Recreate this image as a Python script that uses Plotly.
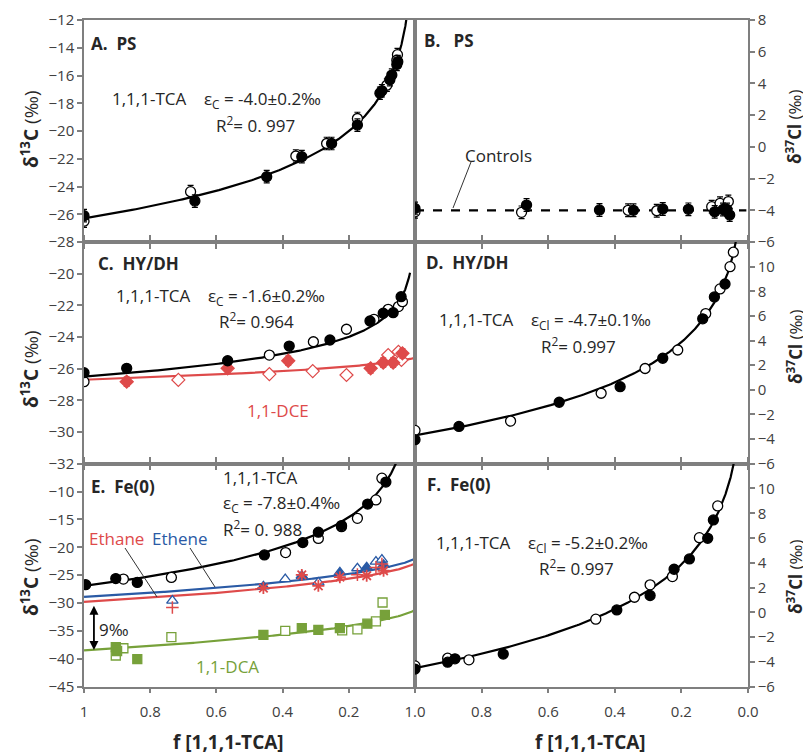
import numpy as np
import plotly.graph_objects as go

# ---------------- data ----------------
# Panel A (PS, d13C)
A_f_fill = [1.0, 0.665, 0.448, 0.342, 0.252, 0.174, 0.106, 0.10, 0.076, 0.07, 0.055, 0.052]
A_v_fill = [-26.1, -25.05, -23.29, -21.85, -20.9, -19.57, -17.28, -17.1, -16.3, -15.97, -15.2, -15.0]
A_f_open = [1.0, 0.678, 0.36, 0.267, 0.174, 0.085, 0.053, 0.055]
A_v_open = [-26.5, -24.37, -21.8, -20.9, -19.1, -16.7, -14.5, -14.9]
A_err = 0.45

# Panel B (PS, d37Cl controls)
B_f_fill = [1.0, 0.665, 0.446, 0.344, 0.256, 0.179, 0.10, 0.075, 0.063, 0.055]
B_v_fill = [-3.88, -3.67, -3.98, -4.0, -3.92, -3.94, -4.1, -3.95, -3.95, -4.3]
B_f_open = [1.0, 0.68, 0.36, 0.274, 0.109, 0.084, 0.059]
B_v_open = [-4.1, -4.13, -4.0, -4.03, -3.77, -3.56, -3.45]
B_err = 0.4
B_control = -4.0

# Panel C (HY/DH, d13C)
C_f_fill = [1.0, 0.871, 0.566, 0.38, 0.257, 0.136, 0.096, 0.066, 0.042]
C_v_fill = [-26.25, -25.98, -25.5, -24.57, -24.19, -22.99, -22.5, -22.46, -21.45]
C_f_open = [1.0, 0.44, 0.307, 0.207, 0.124, 0.081, 0.05, 0.038]
C_v_open = [-26.82, -25.14, -24.3, -23.51, -22.88, -22.25, -22.08, -21.77]
C_dce_f_fill = [0.871, 0.566, 0.383, 0.134, 0.096, 0.066, 0.038]
C_dce_v_fill = [-26.82, -25.98, -25.5, -25.98, -25.62, -25.62, -25.03]
C_dce_f_open = [0.715, 0.44, 0.309, 0.207, 0.081, 0.05, 0.041]
C_dce_v_open = [-26.71, -26.34, -26.15, -26.4, -25.14, -24.93, -25.45]

# Panel D (HY/DH, d37Cl)
D_f_fill = [1.0, 0.868, 0.567, 0.384, 0.256, 0.136, 0.101, 0.069]
D_v_fill = [-4.05, -2.97, -1.01, 0.25, 2.56, 5.76, 7.54, 8.59]
D_f_open = [1.0, 0.713, 0.441, 0.309, 0.211, 0.127, 0.084, 0.054, 0.044]
D_v_open = [-3.3, -2.54, -0.28, 1.73, 3.23, 6.19, 8.19, 10.0, 11.17]

# Panel E (Fe(0), d13C)
E_f_fill = [0.995, 0.904, 0.839, 0.455, 0.339, 0.292, 0.222, 0.143, 0.088]
E_v_fill = [-26.7, -25.6, -26.3, -21.36, -19.15, -17.29, -16.1, -12.25, -8.3]
E_f_open = [0.881, 0.736, 0.391, 0.292, 0.222, 0.174, 0.118, 0.10]
E_v_open = [-25.7, -25.4, -20.95, -18.4, -16.3, -14.8, -11.5, -7.6]
E_ethene_f_fill = [0.458, 0.342, 0.227, 0.146, 0.095]
E_ethene_v_fill = [-27.0, -25.1, -24.5, -23.57, -23.15]
E_ethene_f_open = [0.733, 0.392, 0.292, 0.174, 0.118, 0.10]
E_ethene_v_open = [-29.55, -25.7, -26.3, -23.75, -22.56, -22.2]
E_ethane_f_ast = [0.458, 0.342, 0.292, 0.227, 0.146, 0.095]
E_ethane_v_ast = [-27.3, -24.95, -26.9, -25.36, -25.1, -24.2]
E_ethane_f_plus = [0.733, 0.174, 0.118, 0.10]
E_ethane_v_plus = [-30.8, -24.9, -23.6, -23.0]
E_dca_f_fill = [0.904, 0.900, 0.839, 0.458, 0.342, 0.292, 0.227, 0.144, 0.091]
E_dca_v_fill = [-37.9, -38.6, -40.05, -35.7, -34.5, -34.8, -34.5, -33.7, -32.1]
E_dca_f_open = [0.904, 0.881, 0.736, 0.392, 0.22, 0.174, 0.118, 0.098]
E_dca_v_open = [-39.4, -38.1, -36.1, -35.0, -34.9, -34.7, -33.3, -29.9]

# Panel F (Fe(0), d37Cl)
F_f_fill = [1.0, 0.902, 0.88, 0.735, 0.394, 0.294, 0.222, 0.176, 0.121, 0.104]
F_v_fill = [-4.58, -4.02, -3.75, -3.37, 0.2, 1.36, 3.48, 4.31, 5.98, 7.46]
F_f_open = [1.0, 0.902, 0.838, 0.457, 0.341, 0.294, 0.227, 0.146, 0.091]
F_v_open = [-4.32, -3.7, -3.83, -0.55, 1.22, 2.22, 2.89, 6.03, 8.59]

# fit parameters (Rayleigh: delta0, epsilon; product: delta_end, span)
A_fit = (-26.3, -4.0)
C_fit = (-26.5, -1.6)
D_fit = (-3.7, -4.7)
E_fit = (-26.9, -7.8)
F_fit = (-4.5, -5.2)
C_dce_fit = (-25.3, 1.4)
E_ethene_fit = (-22.0, 6.9)
E_ethane_fit = (-22.85, 6.95)
E_dca_fit = (-31.2, 7.3)

# ---------------- helpers ----------------
BLUE = "#2a5aa5"
RED = "#de4a4a"
GREEN = "#77a13a"
AXC = "#7f7f7f"
TXT = "#262626"
FONT = "Open Sans"

# page has an 8px body margin: figure is placed at (8, 8)
OFF = 8
W, H = 811 - OFF, 755 - OFF


def PX(x):
    return (x - OFF) / W


def PY(y):
    return 1 - (y - OFF) / H


def rayleigh(params, fmin):
    d0, eps = params
    f = np.geomspace(1.0, fmin, 300)
    return f, (d0 + 1000.0) * f ** (eps / 1000.0) - 1000.0


def product(params):
    dend, span = params
    f = np.linspace(0.9999, 0.0005, 300)
    return f, dend + span * f * np.log(f) / (1 - f)


fig = go.Figure()


def pts(x, y, ax, filled=True, color="black", symbol="circle", size=10, err=None, lw=1.3):
    marker = dict(symbol=symbol, size=size,
                  color=color if filled else "white",
                  line=dict(color=color, width=lw))
    tr = go.Scatter(x=x, y=y, mode="markers", marker=marker, xaxis="x" + ax, yaxis="y" + ax,
                    showlegend=False, hoverinfo="skip")
    if err is not None:
        tr.error_y = dict(type="constant", value=err, color=color, thickness=1.2, width=3)
    fig.add_trace(tr)


def line(x, y, ax, color="black", width=2.2, dash=None):
    fig.add_trace(go.Scatter(x=x, y=y, mode="lines", line=dict(color=color, width=width, dash=dash),
                             xaxis="x" + ax, yaxis="y" + ax, showlegend=False, hoverinfo="skip"))


# Panel A
f, v = rayleigh(A_fit, 0.02)
line(f, v, "")
pts(A_f_open, A_v_open, "", filled=False, err=A_err)
pts(A_f_fill, A_v_fill, "", filled=True, err=A_err)

# Panel B
line([1.0, 0.005], [B_control, B_control], "2", width=2.2, dash="dash")
pts(B_f_open, B_v_open, "2", filled=False, err=B_err)
pts(B_f_fill, B_v_fill, "2", filled=True, err=B_err)

# Panel C
f, v = rayleigh(C_fit, 0.015)
line(f, v, "3")
f, v = product(C_dce_fit)
line(f, v, "3", color=RED)
pts(C_dce_f_open, C_dce_v_open, "3", filled=False, color=RED, symbol="diamond", size=10, lw=1.2)
pts(C_dce_f_fill, C_dce_v_fill, "3", filled=True, color=RED, symbol="diamond", size=10, err=0.3)
pts(C_f_open, C_v_open, "3", filled=False)
pts(C_f_fill, C_v_fill, "3", filled=True)

# Panel D
f, v = rayleigh(D_fit, 0.02)
line(f, v, "4")
pts(D_f_open, D_v_open, "4", filled=False)
pts(D_f_fill, D_v_fill, "4", filled=True)

# Panel E
f, v = rayleigh(E_fit, 0.04)
line(f, v, "5")
f, v = product(E_ethene_fit)
line(f, v, "5", color=BLUE)
f, v = product(E_ethane_fit)
line(f, v, "5", color=RED)
f, v = product(E_dca_fit)
line(f, v, "5", color=GREEN)
pts(E_dca_f_open, E_dca_v_open, "5", filled=False, color=GREEN, symbol="square", size=9, lw=1.3)
pts(E_dca_f_fill, E_dca_v_fill, "5", filled=True, color=GREEN, symbol="square", size=9)
pts(E_ethene_f_open, E_ethene_v_open, "5", filled=False, color=BLUE, symbol="triangle-up", size=10, lw=1.3)
pts(E_ethene_f_fill, E_ethene_v_fill, "5", filled=True, color=BLUE, symbol="triangle-up", size=10)
fig.add_trace(go.Scatter(x=E_ethane_f_ast, y=E_ethane_v_ast, mode="markers", xaxis="x5", yaxis="y5",
                         marker=dict(symbol="asterisk-open", size=10, color=RED, line=dict(color=RED, width=1.8)),
                         showlegend=False, hoverinfo="skip"))
fig.add_trace(go.Scatter(x=E_ethane_f_plus, y=E_ethane_v_plus, mode="markers", xaxis="x5", yaxis="y5",
                         marker=dict(symbol="cross-thin-open", size=9, color=RED, line=dict(color=RED, width=1.5)),
                         showlegend=False, hoverinfo="skip"))
pts(E_f_open, E_v_open, "5", filled=False)
pts(E_f_fill, E_v_fill, "5", filled=True)

# Panel F
f, v = rayleigh(F_fit, 0.02)
line(f, v, "6")
pts(F_f_open, F_v_open, "6", filled=False)
pts(F_f_fill, F_v_fill, "6", filled=True)

# ---------------- layout ----------------
XL = [PX(84), PX(415)]
XR = [PX(415), PX(748)]
YT = [PY(242), PY(20)]
YM = [PY(463.7), PY(242)]
YB = [PY(686.7), PY(463.7)]

tickfont = dict(family=FONT, size=15, color="#404040")
common = dict(showline=True, linecolor=AXC, linewidth=1.5, ticks="outside", ticklen=5,
              tickcolor=AXC, tickwidth=1.5, showgrid=False, zeroline=False, tickfont=tickfont,
              automargin=False)

fvals = [1, 0.8, 0.6, 0.4, 0.2, 0]


def xax(dom, anchor, row, left):
    d = dict(common, domain=dom, anchor=anchor, range=[1, 0], tickvals=fvals)
    d["mirror"] = True if row == 0 else "ticks"
    if row == 2:
        d["ticktext"] = ["1", "0.8", "0.6", "0.4", "0.2", ""] if left else ["1.0", "0.8", "0.6", "0.4", "0.2", "0.0"]
        d["ticklabelstandoff"] = 6
    else:
        d["showticklabels"] = False
    return d


def yax(dom, anchor, rng, tv, side):
    d = dict(common, domain=dom, anchor=anchor, range=rng, tickvals=tv, side=side, mirror=True)
    return d


fig.update_layout(
    width=W, height=H, margin=dict(l=0, r=0, t=0, b=0),
    paper_bgcolor="white", plot_bgcolor="white", showlegend=False,
    xaxis=xax(XL, "y", 0, True), yaxis=yax(YT, "x", [-28, -12], list(range(-28, -11, 2)), "left"),
    xaxis2=xax(XR, "y2", 0, False), yaxis2=yax(YT, "x2", [-6, 8], list(range(-6, 9, 2)), "right"),
    xaxis3=xax(XL, "y3", 1, True), yaxis3=yax(YM, "x3", [-32, -18], list(range(-32, -19, 2)), "left"),
    xaxis4=xax(XR, "y4", 1, False), yaxis4=yax(YM, "x4", [-6, 12], list(range(-6, 11, 2)), "right"),
    xaxis5=xax(XL, "y5", 2, True), yaxis5=yax(YB, "x5", [-45, -5], list(range(-45, -9, 5)), "left"),
    xaxis6=xax(XR, "y6", 2, False), yaxis6=yax(YB, "x6", [-6, 12], list(range(-6, 11, 2)), "right"),
)


def txt(x, y, s, size=17, color=TXT, anchor="left", angle=0):
    fig.add_annotation(x=PX(x), y=PY(y), xref="paper", yref="paper", text=s, showarrow=False,
                       xanchor=anchor, yanchor="middle", textangle=angle,
                       font=dict(family=FONT, size=size, color=color))


# panel labels
txt(89, 43, "<b>A.  PS</b>", 17)
txt(422, 41, "<b>B.   PS</b>", 17)
txt(96, 263, "<b>C.  HY/DH</b>", 17)
txt(424, 262, "<b>D.  HY/DH</b>", 17)
txt(89, 486, "<b>E.  Fe(0)</b>", 17)
txt(425, 485, "<b>F.  Fe(0)</b>", 17)

# equations
txt(110, 100, "1,1,1-TCA    ε<sub>C</sub> = -4.0±0.2‰")
txt(214, 125, "R<sup>2</sup>= 0. 997")
txt(114, 297, "1,1,1-TCA    ε<sub>C</sub> = -1.6±0.2‰")
txt(217, 320, "R<sup>2</sup>= 0.964")
txt(245, 410, "1,1-DCE", color=RED)
txt(437, 320, "1,1,1-TCA    ε<sub>Cl</sub> = -4.7±0.1‰")
txt(539, 345, "R<sup>2</sup>= 0.997")
txt(221, 477, "1,1,1-TCA")
txt(221, 503, "ε<sub>C</sub> = -7.8±0.4‰")
txt(221, 528, "R<sup>2</sup>= 0. 988")
txt(87, 538, "Ethane", color=RED)
txt(150, 538, "Ethene", color=BLUE)
txt(97, 629, "9‰")
txt(194, 666, "1,1-DCA", color=GREEN)
txt(434, 543, "1,1,1-TCA    ε<sub>Cl</sub> = -5.2±0.2‰")
txt(537, 567, "R<sup>2</sup>= 0.997")
txt(498, 155, "Controls", anchor="center")

# axis titles
ytl = "<b>δ<sup>13</sup>C</b> (‰)"
ytr = "<b>δ<sup>37</sup>Cl</b> (‰)"
for yc in (130, 370, 578):
    txt(30, yc, ytl, 19, anchor="center", angle=-90)
for yc in (127, 347, 577):
    txt(794, yc, ytr, 17, anchor="center", angle=-90)
txt(228, 742, "<b>f [1,1,1-TCA]</b>", 19, anchor="center")
txt(590, 742, "<b>f [1,1,1-TCA]</b>", 19, anchor="center")

# leader lines
def seg(x0, y0, x1, y1):
    fig.add_shape(type="line", xref="paper", yref="paper", x0=PX(x0), y0=PY(y0), x1=PX(x1), y1=PY(y1),
                  line=dict(color="#333", width=1))

seg(471, 162, 453, 208)
seg(125, 548, 157, 597)
seg(190, 548, 215, 587)

# 9 permil double arrow
fig.add_annotation(x=0.97, y=-38.4, xref="x5", yref="y5", ax=0.97, ay=-30.2, axref="x5", ayref="y5",
                   text="", showarrow=True, arrowhead=2, startarrowhead=2, arrowside="end+start",
                   arrowwidth=1.8, arrowsize=1, arrowcolor="black")

fig.write_html("out.html")
